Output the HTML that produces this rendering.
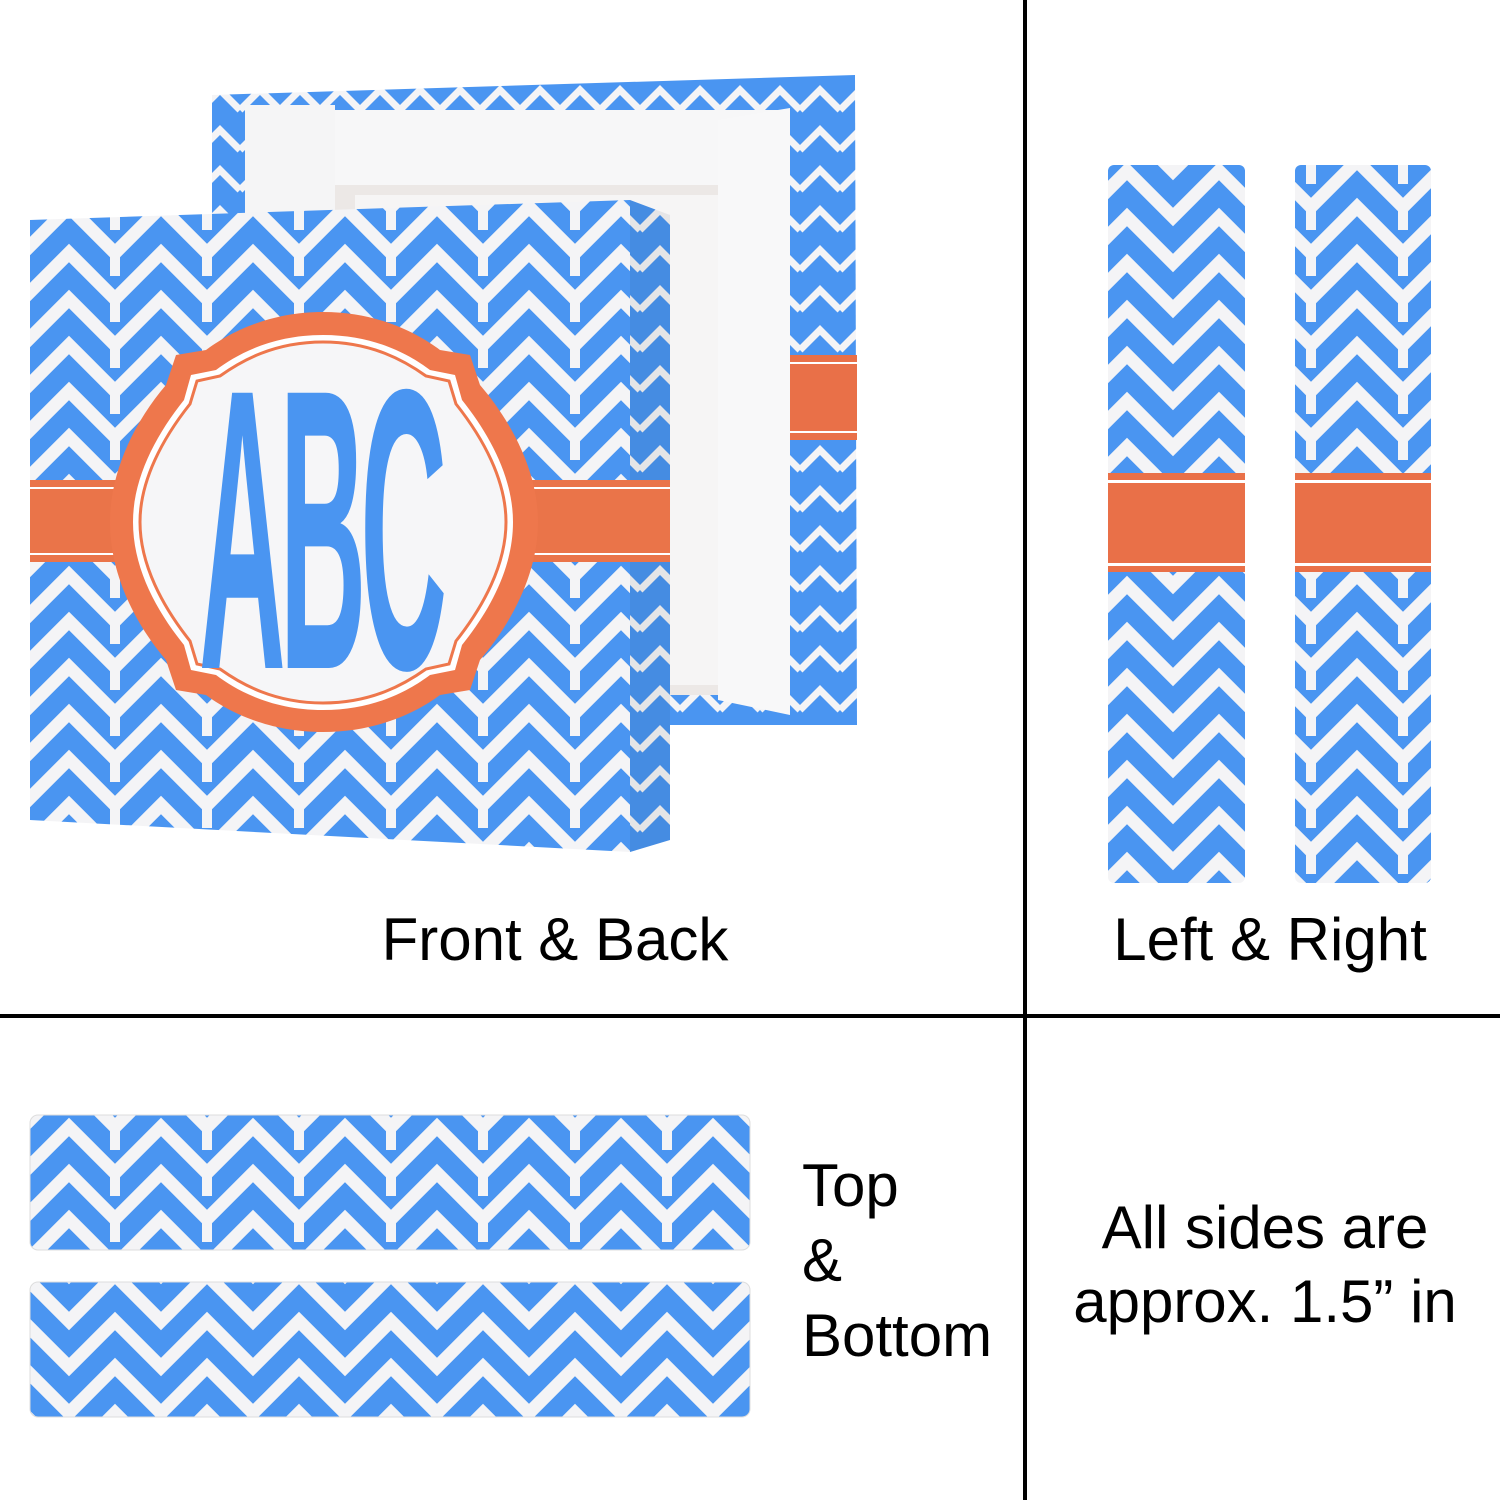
<!DOCTYPE html>
<html><head><meta charset="utf-8"><style>
html,body{margin:0;padding:0;background:#fff}
svg{display:block}
text{font-family:"Liberation Sans",sans-serif}
</style></head><body>
<svg width="1500" height="1500" viewBox="0 0 1500 1500" xmlns="http://www.w3.org/2000/svg">
<defs>
<pattern id="zz" width="92" height="46" patternUnits="userSpaceOnUse">
<rect width="92" height="46" fill="#4a95f1"/>
<polyline points="-23,-23 23,23 69,-23 115,23" fill="none" stroke="#f4f4f6" stroke-width="13"/>
<polyline points="-23,23 23,69 69,23 115,69" fill="none" stroke="#f4f4f6" stroke-width="13"/>
<line x1="23" y1="23" x2="23" y2="46" stroke="#f4f4f6" stroke-width="10"/>
</pattern>
<pattern id="zzs" width="40" height="40" patternUnits="userSpaceOnUse">
<rect width="40" height="40" fill="#4a95f1"/>
<polyline points="0,30 20,10 40,30" fill="none" stroke="#f4f4f6" stroke-width="7"/>
</pattern>
<pattern id="zzv" width="92" height="46" patternUnits="userSpaceOnUse" patternTransform="translate(0,10)">
<rect width="92" height="46" fill="#4a95f1"/>
<polyline points="-23,23 23,-23 69,23 115,-23" fill="none" stroke="#f4f4f6" stroke-width="13"/>
<polyline points="-23,69 23,23 69,69 115,23" fill="none" stroke="#f4f4f6" stroke-width="13"/>
</pattern>
</defs>

<rect x="1023" y="0" width="4" height="1500" fill="#000"/>
<rect x="0" y="1014" width="1500" height="4" fill="#000"/>

<polygon points="212,95 855,75 857,725 212,725" fill="url(#zzs)"/>
<rect x="250" y="110" width="540" height="75" fill="#f7f7f8"/>
<rect x="335" y="185" width="383" height="510" fill="#ece8e6"/>
<rect x="355" y="195" width="363" height="490" fill="#f6f5f5"/>
<rect x="245" y="105" width="90" height="120" fill="#f5f5f6"/>
<polygon points="718,120 790,108 790,715 718,700" fill="#f8f8f9"/>
<rect x="790" y="355" width="67" height="85" fill="#e97048"/>
<rect x="790" y="362" width="67" height="2" fill="#fff"/>
<rect x="790" y="431" width="67" height="2" fill="#fff"/>

<polygon points="630,200 670,215 670,840 630,852" fill="url(#zzs)"/>
<polygon points="630,200 670,215 670,840 630,852" fill="#000" opacity="0.06"/>
<polygon points="30,220 630,200 630,852 30,820" fill="url(#zz)"/>
<rect x="30" y="480" width="640" height="82" fill="#ea7449"/>
<rect x="30" y="487" width="640" height="2" fill="#fff"/>
<rect x="30" y="553" width="640" height="2" fill="#fff"/>
<path d="M323,312 C380,312 420,335 440,350 L470,355 L480,385 C510,420 538,470 538,522 C538,575 510,625 480,660 L470,690 L440,695 C420,710 380,732 323,732 C266,732 226,710 206,695 L176,690 L166,660 C136,625 110,575 110,522 C110,470 136,420 166,385 L176,355 L206,350 C226,335 266,312 323,312 Z" fill="#ee774c"/>
<path d="M323,335 C375,335 410,355 430,370 L455,375 L462,400 C490,435 513,478 513,522 C513,568 490,610 462,645 L455,670 L430,675 C410,690 375,710 323,710 C271,710 236,690 216,675 L191,670 L184,645 C156,610 133,568 133,522 C133,478 156,435 184,400 L191,375 L216,370 C236,355 271,335 323,335 Z" fill="#fff"/>
<path d="M323,342 C372,342 405,361 426,376 L449,381 L456,404 C483,438 506,480 506,522 C506,565 483,607 456,641 L449,664 L426,669 C405,684 372,703 323,703 C274,703 241,684 220,669 L197,664 L190,641 C163,607 140,565 140,522 C140,480 163,438 190,404 L197,381 L220,376 C241,361 274,342 323,342 Z" fill="#f6f6f8" stroke="#ee774c" stroke-width="3"/>
<text x="0" y="0" font-size="400" font-weight="bold" fill="#4a95f1" text-anchor="middle" transform="translate(320,668) scale(0.3,1)" letter-spacing="-20">ABC</text>

<text x="555" y="960" font-size="60" text-anchor="middle" fill="#000">Front &amp; Back</text>

<rect x="1108" y="165" width="137" height="718" rx="6" fill="url(#zzv)"/>
<rect x="1295" y="165" width="136" height="718" rx="6" fill="url(#zz)"/>
<rect x="1108" y="473" width="137" height="99" fill="#e97048"/>
<rect x="1295" y="473" width="136" height="99" fill="#e97048"/>
<rect x="1108" y="480" width="137" height="3" fill="#fff"/>
<rect x="1108" y="563" width="137" height="3" fill="#fff"/>
<rect x="1295" y="480" width="136" height="3" fill="#fff"/>
<rect x="1295" y="563" width="136" height="3" fill="#fff"/>
<text x="1270" y="960" font-size="60" text-anchor="middle" fill="#000">Left &amp; Right</text>

<rect x="30" y="1115" width="720" height="135" rx="8" fill="url(#zz)" stroke="#ddd" stroke-width="1"/>
<rect x="30" y="1282" width="720" height="135" rx="8" fill="url(#zzv)" stroke="#ddd" stroke-width="1"/>
<text x="802" y="1206" font-size="60" fill="#000">Top</text>
<text x="802" y="1281" font-size="60" fill="#000">&amp;</text>
<text x="802" y="1356" font-size="60" fill="#000">Bottom</text>

<text x="1265" y="1248" font-size="60" text-anchor="middle" fill="#000">All sides are</text>
<text x="1265" y="1322" font-size="60" text-anchor="middle" fill="#000">approx. 1.5” in</text>
</svg>
</body></html>
